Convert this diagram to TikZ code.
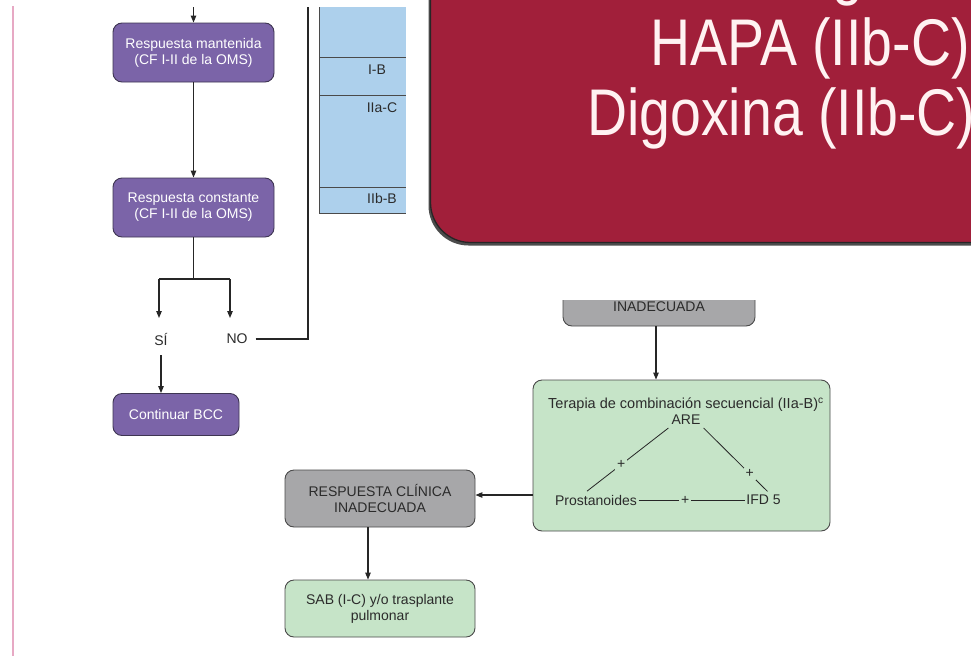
\documentclass[tikz,border=0pt]{standalone}
\usepackage{fontspec}
\setmainfont{Liberation Sans}
\newfontfamily\condfont{Liberation Sans}[FakeStretch=0.84]
\usetikzlibrary{arrows.meta,calc}

\definecolor{purplefill}{HTML}{7B64A8}
\definecolor{purpleline}{HTML}{3E3552}
\definecolor{greyfill}{HTML}{A7A7A9}
\definecolor{greenfill}{HTML}{C6E4C8}
\definecolor{boxline}{HTML}{4A4A4A}
\definecolor{tablefill}{HTML}{ADD0EC}
\definecolor{redfill}{HTML}{A11F3A}
\definecolor{pinkrule}{HTML}{E7A9C4}
\definecolor{textgray}{HTML}{2B2B2B}
\definecolor{linecol}{HTML}{262626}

\begin{document}
\begin{tikzpicture}[x=1pt,y=-1pt,
  txt/.style={font=\fontsize{14}{16}\selectfont, text=textgray},
  box/.style={rounded corners=9pt, line width=0.9pt, inner sep=0pt, align=center, txt},
  purplebox/.style={box, fill=purplefill, draw=purpleline, text=white},
  greybox/.style={box, fill=greyfill, draw=boxline},
  greenbox/.style={box, fill=greenfill, draw=boxline},
  lbl/.style={txt, inner sep=0pt},
  link/.style={draw=linecol, line width=1.1pt},
  arr/.style={link, -{Triangle[length=7pt,width=5.5pt]}},
  plus/.style={txt, fill=greenfill, inner sep=2pt},
  bigtxt/.style={font=\condfont\fontsize{66}{70}\selectfont, text=white!95!red, inner sep=0pt, anchor=base west}]

\clip (0,0) rectangle (971,656);
\fill[white] (0,0) rectangle (971,656);

% page margin rule
\fill[pinkrule] (11.5,6) rectangle (14,656);

% ---- left column ----
\coordinate (top) at (193.5,7);
\node[purplebox, minimum width=161pt, minimum height=59pt] (b1) at (193.5,52.5)
  {Respuesta mantenida\\(CF I-II de la OMS)};
\node[purplebox, minimum width=161pt, minimum height=59pt] (b2) at (193.5,207.5)
  {Respuesta constante\\(CF I-II de la OMS)};
\node[purplebox, minimum width=126pt, minimum height=42pt] (cont) at (176,414.5)
  {Continuar BCC};

\node[lbl] (si) at (161,339) {SÍ};
\node[lbl] (no) at (237,339) {NO};

\coordinate (split) at (193.5,279);
\coordinate (siTop) at (159,279);
\coordinate (noTop) at (230,279);
\coordinate (siEnd) at (159,318);
\coordinate (noEnd) at (230,318);
\coordinate (backTurn) at (308,339);
\coordinate (backTop) at (308,7);

\draw[arr] (top) -- (b1.north);
\draw[arr] (b1.south) -- (b2.north);
\draw[link] (b2.south) -- (split);
\draw[link] (siTop) -- (noTop);
\draw[arr] (siTop) -- (siEnd);
\draw[arr] (noTop) -- (noEnd);
\draw[arr, shorten <=10pt] (si.south) -- (si.south |- cont.north);
\draw[link, shorten <=8pt] (no.east) -- (backTurn) -- (backTop);

% ---- evidence table ----
\fill[tablefill] (319,7) rectangle (406,213);
\draw[line width=0.9pt, draw=boxline] (319,7) -- (319,213) -- (406,213);
\foreach \yy in {57,95,187} \draw[line width=0.9pt, draw=boxline] (319,\yy) -- (406,\yy);
\node[lbl] (tIB)  at (377,70)  {I-B};
\node[lbl] (tIIaC) at (382,108) {IIa-C};
\node[lbl] (tIIbB) at (382,198) {IIb-B};

% ---- red panel ----
\fill[black!70, rounded corners=40pt] (428.5,-60) rectangle (1030,245.5);
\draw[fill=redfill, draw=black!85, line width=1.3pt, rounded corners=40pt] (430.5,-60) rectangle (1030,242.5);
\begin{scope}
  \clip (431,0) rectangle (971,241);
  \node[bigtxt] (lineg) at (832,-8) {g};
\end{scope}
\node[bigtxt] (hapa) at (650,65) {HAPA (IIb-C)};
\node[bigtxt] (digo) at (587,135) {Digoxina (IIb-C)};

% ---- right column ----
\begin{scope}
  \clip (431,300) rectangle (971,656);
  \node[greybox, minimum width=192pt, minimum height=57pt] (g1) at (659,297.5)
    {RESPUESTA CLÍNICA\\INADECUADA};
\end{scope}

\node[greenbox, minimum width=297pt, minimum height=151pt] (combo) at (681.5,455.5) {};
\node[lbl, font=\fontsize{14.5}{16}\selectfont] (title) at (686,405)
  {Terapia de combinación secuencial (IIa-B)\textsuperscript{c}};
\node[lbl, inner sep=3pt] (are) at (686,420) {ARE};
\node[lbl, inner sep=1.5pt] (pro) at (596,500) {Prostanoides};
\node[lbl, inner sep=1.5pt] (ifd) at (763.5,500) {IFD 5};

\draw[link, line width=0.8pt] (are.south west) -- node[plus, pos=0.58] {+} ($(pro.north)+(-9,-2)$);
\draw[link, line width=0.8pt] (are.south east) -- node[plus, pos=0.72] {+} ($(ifd.north)+(4,-2)$);
\draw[link, line width=0.8pt] (pro.east) -- node[plus, pos=0.44] {+} (ifd.west);

\node[greybox, minimum width=190pt, minimum height=57pt] (g2) at (380,498.5)
  {RESPUESTA CLÍNICA\\INADECUADA};
\node[greenbox, minimum width=190pt, minimum height=57pt] (sab) at (380,608.5)
  {SAB (I-C) y/o trasplante\\pulmonar};

\coordinate (gx) at (656,0);
\coordinate (sx) at (368,0);
\draw[arr] (g1.south -| gx) -- (combo.north -| gx);
\draw[arr] (combo.west |- 0,495) -- (g2.east |- 0,495);
\draw[arr] (g2.south -| sx) -- (sab.north -| sx);

\end{tikzpicture}
\end{document}
